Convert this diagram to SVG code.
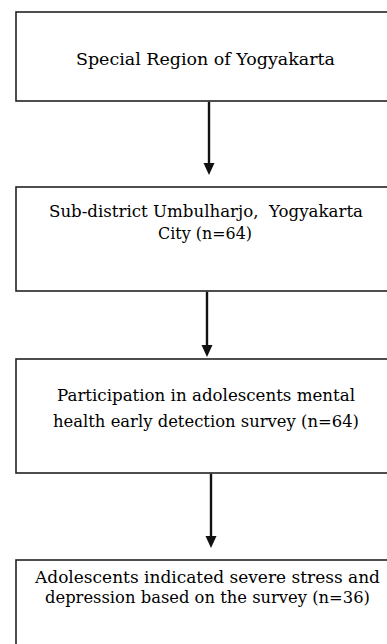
<svg xmlns="http://www.w3.org/2000/svg" width="387" height="644" viewBox="0 0 387 644">
<style>
.box{fill:#fff;stroke:#222;stroke-width:1.6}
.t{font-family:"DejaVu Serif","Liberation Serif",serif;font-size:17px;fill:#000}
.arr{stroke:#111;stroke-width:2.4;fill:none}
.head{fill:#111}
</style>
<rect x="0" y="0" width="387" height="644" fill="#fff"/>
<g id="node1">
<rect class="box" x="16" y="12" width="380" height="89"/>
<text class="t" x="76" y="65" textLength="259" lengthAdjust="spacingAndGlyphs">Special Region of Yogyakarta</text>
</g>
<g id="node2">
<rect class="box" x="16" y="187" width="380" height="104"/>
<text class="t" x="49" y="216.5" textLength="314" lengthAdjust="spacingAndGlyphs" xml:space="preserve">Sub-district Umbulharjo,  Yogyakarta</text>
<text class="t" x="158" y="238.5" textLength="94" lengthAdjust="spacingAndGlyphs">City (n=64)</text>
</g>
<g id="node3">
<rect class="box" x="16" y="359" width="380" height="114"/>
<text class="t" x="57" y="401" textLength="298" lengthAdjust="spacingAndGlyphs">Participation in adolescents mental</text>
<text class="t" x="53" y="427" textLength="306" lengthAdjust="spacingAndGlyphs">health early detection survey (n=64)</text>
</g>
<g id="node4">
<rect class="box" x="16" y="560" width="380" height="100"/>
<text class="t" x="35" y="583" textLength="345" lengthAdjust="spacingAndGlyphs">Adolescents indicated severe stress and</text>
<text class="t" x="45" y="603" textLength="325" lengthAdjust="spacingAndGlyphs">depression based on the survey (n=36)</text>
</g>
<g id="connectors">
<line class="arr" x1="209" y1="101.8" x2="209" y2="164"/>
<polygon class="head" points="203.5,163 214.5,163 209,175"/>
<line class="arr" x1="207" y1="291.8" x2="207" y2="346"/>
<polygon class="head" points="201.5,345 212.5,345 207,357"/>
<line class="arr" x1="211" y1="473.8" x2="211" y2="537"/>
<polygon class="head" points="205.5,536 216.5,536 211,548"/>
</g>
</svg>
